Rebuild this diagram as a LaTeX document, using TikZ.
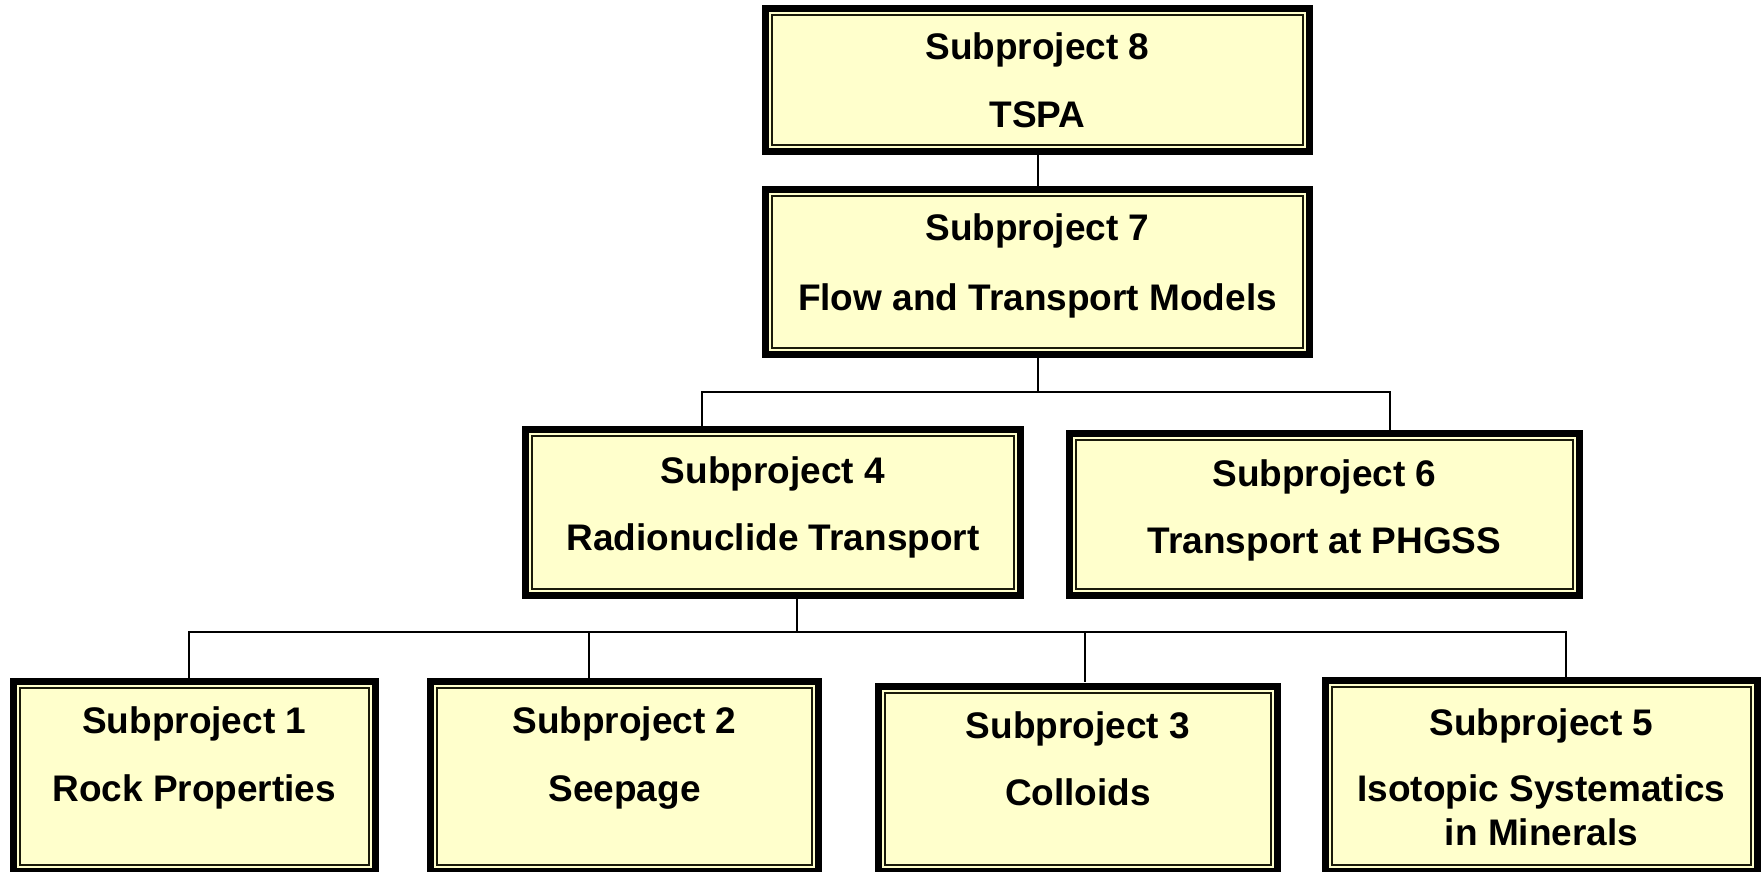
\documentclass[tikz,border=0pt]{standalone}
\usepackage{fontspec}
\setmainfont{Liberation Sans}
\usetikzlibrary{fit}

\definecolor{boxfill}{HTML}{FFFFCC}
\definecolor{bandfill}{HTML}{FFFFCC}
\definecolor{innerline}{HTML}{1A1A0A}

\tikzset{
  % framed box: heavy black frame, thin cream band, thin dark inner rule
  subbox/.style={rectangle, inner sep=0pt, fill=black, path picture={
      \fill[bandfill]
        ([shift={(3.65pt,-3.65pt)}]path picture bounding box.north west) rectangle
        ([shift={(-3.65pt,3.65pt)}]path picture bounding box.south east);
      \draw[innerline, line width=1pt, fill=boxfill]
        ([shift={(5pt,-5pt)}]path picture bounding box.north west) rectangle
        ([shift={(-5pt,5pt)}]path picture bounding box.south east);
  }},
  lbl/.style={anchor=base, inner sep=0pt, font=\bfseries\fontsize{18.5}{22}\selectfont},
  link/.style={line width=1pt, black},
}

\begin{document}
\begin{tikzpicture}[x=0.5pt, y=-0.5pt]
\useasboundingbox (0,0) rectangle (1763,872);
\begin{scope}
\clip (0,0) rectangle (1763,872);

% boxes
\node[subbox, fit={(762,5) (1313,155)}]      (b8) {};
\node[subbox, fit={(762,186) (1313,358)}]    (b7) {};
\node[subbox, fit={(522,426) (1024,599)}]    (b4) {};
\node[subbox, fit={(1066,430) (1583,599)}]   (b6) {};
\node[subbox, fit={(9.5,678) (379,875)}]     (b1) {};
\node[subbox, fit={(427,678) (822,875)}]     (b2) {};
\node[subbox, fit={(875,682.5) (1281,875)}]  (b3) {};
\node[subbox, fit={(1322,677) (1761,875)}]   (b5) {};

% labels
\node[lbl] (t8a) at (1037.5,59.5)  {Subproject 8};
\node[lbl] (t8b) at (1037.5,127.5) {TSPA};
\node[lbl] (t7a) at (1037.5,241)   {Subproject 7};
\node[lbl] (t7b) at (1037.5,310)   {Flow and Transport Models};
\node[lbl] (t4a) at (773,483.3)    {Subproject 4};
\node[lbl] (t4b) at (773,550)      {Radionuclide Transport};
\node[lbl] (t6a) at (1324.5,486.5) {Subproject 6};
\node[lbl] (t6b) at (1324.5,553)   {Transport at PHGSS};
\node[lbl] (t1a) at (194.25,733.5) {Subproject 1};
\node[lbl] (t1b) at (194.25,801)   {Rock Properties};
\node[lbl] (t2a) at (624.5,733.5)  {Subproject 2};
\node[lbl] (t2b) at (624.5,801)    {Seepage};
\node[lbl] (t3a) at (1078,738.5)   {Subproject 3};
\node[lbl] (t3b) at (1078,805)     {Colloids};
\node[lbl] (t5a) at (1541.5,735)   {Subproject 5};
\node[lbl] (t5b) at (1541.5,801)   {Isotopic Systematics};
\node[lbl] (t5c) at (1541.5,845)   {in Minerals};

% junction points of the connector buses
\coordinate (j7) at (1037.5,392);
\coordinate (d4) at (701.6,392);
\coordinate (d6) at (1389.8,392);
\coordinate (j4) at (797,632);
\coordinate (d1) at (189,632);
\coordinate (d2) at (589,632);
\coordinate (d3) at (1085,632);
\coordinate (d5) at (1565.7,632);

% connectors
\draw[link] (b8.south) -- (b7.north);
\draw[link] (b7.south) -- (j7);
\draw[link] (d4 |- b4.north) -- (d4) -- (d6) -- (d6 |- b6.north);
\draw[link] (j4 |- b4.south) -- (j4);
\draw[link] (d1 |- b1.north) -- (d1) -- (d5) -- (d5 |- b5.north);
\draw[link] (d2) -- (d2 |- b2.north);
\draw[link] (d3) -- (d3 |- b3.north);
\end{scope}
\end{tikzpicture}
\end{document}
